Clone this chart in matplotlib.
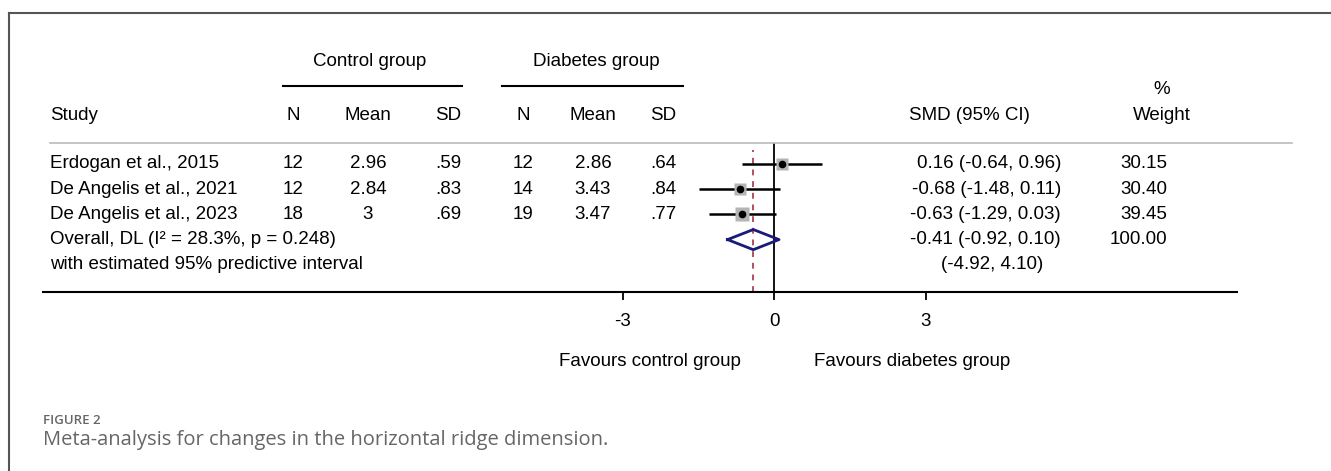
import matplotlib.pyplot as plt
from matplotlib.lines import Line2D

W, H = 1331, 471

# data
studies = ["Erdogan et al., 2015", "De Angelis et al., 2021", "De Angelis et al., 2023"]
ctrl_n = ["12", "12", "18"]
ctrl_mean = ["2.96", "2.84", "3"]
ctrl_sd = [".59", ".83", ".69"]
diab_n = ["12", "14", "19"]
diab_mean = ["2.86", "3.43", "3.47"]
diab_sd = [".64", ".84", ".77"]
smd = [0.16, -0.68, -0.63]
ci_lo = [-0.64, -1.48, -1.29]
ci_hi = [0.96, 0.11, 0.03]
weights = [30.15, 30.40, 39.45]
overall = (-0.41, -0.92, 0.10)
pred_int = (-4.92, 4.10)
overall_label = "Overall, DL (I\u00b2 = 28.3%, p = 0.248)"
pred_label = "with estimated 95% predictive interval"
xticks = [-3, 0, 3]

plt.rcParams['font.family'] = ['Liberation Sans', 'DejaVu Sans']
FS = 13.5

fig = plt.figure(figsize=(W / 100, H / 100), dpi=100)


def fx(x):
    return x / W


def fy(y):
    return 1 - y / H


def txt(x, y, s, ha='center', **kw):
    kw.setdefault('fontsize', FS)
    fig.text(fx(x), fy(y), s, ha=ha, va='center', **kw)


def hline(x0, x1, y, **kw):
    fig.add_artist(Line2D([fx(x0), fx(x1)], [fy(y), fy(y)], **kw))


# frame
hline(9, W, 13, color='#555555', lw=1.5)
fig.add_artist(Line2D([fx(9), fx(9)], [fy(13), 0], color='#555555', lw=1.5))

# row pixel layout
row0, drow = 164, 25.2
x0px, ppu = 774, 50.5
ax_l, ax_r, ax_t, ax_b = 43, 1237, 143, 292

ax = fig.add_axes([fx(ax_l), fy(ax_b), (ax_r - ax_l) / W, (ax_b - ax_t) / H])
ax.set_xlim((ax_l - x0px) / ppu, (ax_r - x0px) / ppu)
ax.set_ylim((ax_b - row0) / drow, (ax_t - row0) / drow)
ax.patch.set_alpha(0)
for s in ['top', 'left', 'right']:
    ax.spines[s].set_visible(False)
ax.spines['bottom'].set_linewidth(1.5)
ax.set_yticks([])
ax.set_xticks(xticks)
ax.set_xticklabels([str(t) for t in xticks])
ax.tick_params(axis='x', length=6, width=1.3, pad=9, labelsize=FS)

# reference lines
ax.axvline(0, color='black', lw=1.3)
ax.axvline(overall[0], ymin=0, ymax=(ax_b - 150) / (ax_b - ax_t),
           color='#b05060', lw=1.4, ls=(0, (3, 3)))

# studies
for i in range(len(studies)):
    ax.plot([ci_lo[i], ci_hi[i]], [i, i], color='black', lw=1.8, solid_capstyle='butt')
    ax.plot(smd[i], i, marker='s', ms=1.6 * weights[i] ** 0.5, color='#b4b4b4', mec='none')
    ax.plot(smd[i], i, marker='o', ms=4.5, color='black')

# diamond
r = len(studies)
ax.plot([overall[1], overall[0], overall[2], overall[0], overall[1]],
        [r, r - 0.4, r, r + 0.4, r], color='#1a1a7a', lw=2, clip_on=False)

# headers
txt(370, 62, "Control group")
hline(283, 462, 86, color='black', lw=1.5)
txt(596, 62, "Diabetes group")
hline(502, 683, 86, color='black', lw=1.5)

hy = 115
txt(50, hy, "Study", ha='left')
cols_x = [293, 368, 448, 523, 593, 663]
for x, s in zip(cols_x, ["N", "Mean", "SD", "N", "Mean", "SD"]):
    txt(x, hy, s)
txt(969, hy, "SMD (95% CI)")
txt(1162, 90, "%")
txt(1162, hy, "Weight")
hline(50, 1292, 143, color='#bbbbbb', lw=1.2)

# table rows
smd_r, w_r = 1061, 1167
for i in range(len(studies)):
    y = row0 + drow * i
    txt(50, y, studies[i], ha='left')
    for x, col in zip(cols_x, [ctrl_n, ctrl_mean, ctrl_sd, diab_n, diab_mean, diab_sd]):
        txt(x, y, col[i])
    txt(smd_r, y, f"{smd[i]:.2f} ({ci_lo[i]:.2f}, {ci_hi[i]:.2f})", ha='right')
    txt(w_r, y, f"{weights[i]:.2f}", ha='right')

y = row0 + drow * r
txt(50, y, overall_label, ha='left')
txt(smd_r, y, f"{overall[0]:.2f} ({overall[1]:.2f}, {overall[2]:.2f})", ha='right')
txt(w_r, y, f"{sum(weights):.2f}", ha='right')
y = row0 + drow * (r + 1)
txt(50, y, pred_label, ha='left')
txt(smd_r - 18, y, f"({pred_int[0]:.2f}, {pred_int[1]:.2f})", ha='right')

# favours labels
txt(650, 362, "Favours control group")
txt(912, 362, "Favours diabetes group")

# caption
fig.text(fx(43), fy(421), "FIGURE 2", ha='left', va='center', fontsize=9.5,
         color='#666666', family=['Open Sans', 'DejaVu Sans'], weight='semibold')
fig.text(fx(43), fy(440), "Meta-analysis for changes in the horizontal ridge dimension.",
         ha='left', va='center', fontsize=14.5, color='#666666',
         family=['Open Sans', 'DejaVu Sans'])

fig.savefig("out.png", dpi=100)
